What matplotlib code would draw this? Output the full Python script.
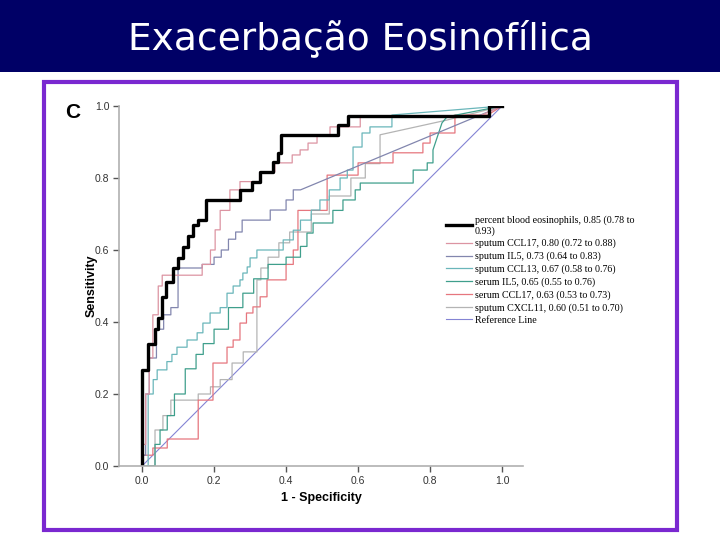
import matplotlib
matplotlib.use("Agg")
import matplotlib.pyplot as plt
from matplotlib.patches import Rectangle

# ROC curve vertices (1 - specificity, sensitivity)
eos_fpr = [0, 0, .017, .017, .036, .036, .045, .045, .055, .055, .067, .067, .086, .086, .10, .10,
           .114, .114, .128, .128, .142, .142, .156, .156, .178, .178, .272, .272, .306, .306, .328,
           .328, .364, .364, .378, .378, .386, .386, .544, .544, .572, .572, .964, .964, 1.0]
eos_tpr = [0, .267, .267, .34, .34, .38, .38, .41, .41, .47, .47, .51, .51, .55, .55, .578, .578,
           .608, .608, .64, .64, .67, .67, .683, .683, .739, .739, .767, .767, .79, .79, .817, .817,
           .844, .844, .87, .87, .92, .92, .947, .947, .972, .972, 1.0, 1.0]

sp_ccl17_fpr = [0, 0, .01, .01, .02, .02, .03, .03, .045, .045, .056, .056, .167, .167, .19, .19,
                .203, .203, .217, .217, .244, .244, .272, .272, .328, .328, .369, .369, .417, .417,
                .439, .439, .461, .461, .486, .486, .522, .522, .606, .606, .93, 1.0]
sp_ccl17_tpr = [0, .06, .06, .2, .2, .3, .3, .42, .42, .5, .5, .53, .53, .56, .56, .6, .6, .656,
                .656, .71, .71, .767, .767, .79, .79, .817, .817, .842, .842, .864, .864, .878, .878,
                .897, .897, .92, .92, .942, .942, .969, .969, 1.0]

sp_il5_fpr = [0, 0, .01, .01, .02, .02, .04, .04, .06, .06, .08, .08, .10, .10, .167, .167, .20, .20,
              .22, .22, .24, .24, .26, .26, .278, .278, .356, .356, .40, .40, .42, .42, .44, 1.0]
sp_il5_tpr = [0, .03, .03, .2, .2, .3, .3, .38, .38, .42, .42, .44, .44, .55, .55, .56, .56, .58, .58,
              .60, .60, .63, .63, .65, .65, .683, .683, .711, .711, .739, .739, .767, .767, 1.0]

sp_ccl13_fpr = [0, .017, .017, .031, .031, .042, .042, .069, .069, .083, .083, .097, .097, .125, .125,
                .153, .153, .169, .169, .189, .189, .217, .217, .236, .236, .253, .253, .272, .272,
                .28, .28, .292, .292, .30, .30, .319, .319, .392, .392, .42, .42, .44, .44, .47, .47,
                .494, .494, .52, .52, .55, .55, .57, .57, .586, .586, .611, .611, .633, .633, .694,
                .694, 1.0]
sp_ccl13_tpr = [0, 0, .2, .2, .24, .24, .267, .267, .29, .29, .31, .31, .33, .33, .35, .35, .37, .37,
                .397, .397, .425, .425, .44, .44, .48, .48, .50, .50, .517, .517, .536, .536, .553,
                .553, .578, .578, .60, .60, .628, .628, .655, .655, .683, .683, .711, .711, .739,
                .739, .767, .767, .80, .80, .822, .822, .886, .886, .925, .925, .942, .942, .975, 1.0]

se_il5_fpr = [0, .036, .036, .05, .05, .07, .07, .09, .09, .12, .12, .15, .15, .17, .17, .20, .20,
              .24, .24, .28, .28, .31, .31, .35, .35, .40, .40, .44, .44, .458, .458, .475, .475,
              .53, .53, .558, .558, .592, .592, .606, .606, .753, .753, .792, .792, .808, .808,
              .833, .847, 1.0]
se_il5_tpr = [0, 0, .06, .06, .10, .10, .14, .14, .20, .20, .27, .27, .31, .31, .34, .34, .38, .38,
              .44, .44, .48, .48, .52, .52, .56, .56, .58, .58, .61, .61, .647, .647, .675, .675,
              .71, .71, .739, .739, .767, .767, .786, .786, .822, .822, .842, .842, .878, .953,
              .97, 1.0]

se_ccl17_fpr = [0, 0, .03, .03, .07, .07, .156, .156, .197, .197, .236, .236, .253, .253, .272, .272,
                .29, .29, .308, .308, .328, .328, .347, .347, .40, .40, .42, .42, .433, .433, .514,
                .514, .60, .60, .697, .697, .78, .78, .80, .80, .869, .869, .96, 1.0]
se_ccl17_tpr = [0, .03, .03, .05, .05, .075, .075, .183, .183, .286, .286, .33, .33, .35, .35, .397,
                .397, .425, .425, .442, .442, .47, .47, .517, .517, .56, .56, .60, .60, .71, .71,
                .808, .808, .842, .842, .87, .87, .897, .897, .925, .925, .975, .975, 1.0]

sp_cxcl11_fpr = [0, .036, .036, .058, .058, .08, .08, .156, .156, .19, .19, .217, .217, .25, .25,
                 .281, .281, .319, .319, .33, .33, .35, .35, .38, .38, .41, .41, .47, .47, .52, .52,
                 .58, .58, .62, .62, .661, .661, .847, 1.0]
sp_cxcl11_tpr = [0, 0, .10, .10, .14, .14, .183, .183, .20, .20, .22, .22, .24, .24, .286, .286,
                 .317, .317, .517, .517, .55, .55, .58, .58, .62, .62, .65, .65, .70, .70, .75, .75,
                 .80, .80, .84, .84, .92, .961, 1.0]

ref_x = [0, 1]
ref_y = [0, 1]

labels = [
    "percent blood eosinophils, 0.85 (0.78 to\n0.93)",
    "sputum CCL17, 0.80 (0.72 to 0.88)",
    "sputum IL5, 0.73 (0.64 to 0.83)",
    "sputum CCL13, 0.67 (0.58 to 0.76)",
    "serum IL5, 0.65 (0.55 to 0.76)",
    "serum CCL17, 0.63 (0.53 to 0.73)",
    "sputum CXCL11, 0.60 (0.51 to 0.70)",
    "Reference Line",
]
ticks = [0.0, 0.2, 0.4, 0.6, 0.8, 1.0]
tick_labels = ["0.0", "0.2", "0.4", "0.6", "0.8", "1.0"]

fig = plt.figure(figsize=(7.2, 5.4), dpi=100)
fig.patch.set_facecolor("white")

# title bar
fig.patches.append(Rectangle((0, 1 - 72 / 540), 1, 72 / 540, transform=fig.transFigure,
                             facecolor="#000066", edgecolor="none", zorder=0))
fig.text(0.5, 1 - 38 / 540, "Exacerbação Eosinofílica", color="white", fontsize=27,
         ha="center", va="center", family="DejaVu Sans")

# purple frame
fig.patches.append(Rectangle((44 / 720, 1 - 530 / 540), 633 / 720, 448 / 540,
                             transform=fig.transFigure, facecolor="none",
                             edgecolor="#7a28d0", linewidth=3, zorder=1))

ax = fig.add_axes([119 / 720, 74 / 540, 404 / 720, 360 / 540])

ref, = ax.plot(ref_x, ref_y, color="#8484d4", lw=0.8)
h7, = ax.plot(sp_cxcl11_fpr, sp_cxcl11_tpr, color="#b4b4b4", lw=0.9)
h6, = ax.plot(se_ccl17_fpr, se_ccl17_tpr, color="#e6767e", lw=0.9)
h5, = ax.plot(se_il5_fpr, se_il5_tpr, color="#3f9f8c", lw=0.9)
h4, = ax.plot(sp_ccl13_fpr, sp_ccl13_tpr, color="#6ab6ba", lw=0.9)
h3, = ax.plot(sp_il5_fpr, sp_il5_tpr, color="#8286ae", lw=0.9)
h2, = ax.plot(sp_ccl17_fpr, sp_ccl17_tpr, color="#dc94a2", lw=0.9)
h1, = ax.plot(eos_fpr, eos_tpr, color="black", lw=2.4)

ax.set_xlim(-0.064, 1.058)
ax.set_ylim(0, 1.0)
ax.set_xticks(ticks)
ax.set_xticklabels(tick_labels)
ax.set_yticks(ticks)
ax.set_yticklabels(tick_labels)
for s in ["top", "right"]:
    ax.spines[s].set_visible(False)
for s in ["left", "bottom"]:
    ax.spines[s].set_color("#b0b0b0")
    ax.spines[s].set_linewidth(1.2)
ax.tick_params(direction="out", length=4, width=1, color="#555555",
               labelsize=7.5, labelcolor="#333333", pad=3)
for t in ax.get_xticklabels() + ax.get_yticklabels():
    t.set_family("Liberation Sans")

ax.set_xlabel("1 - Specificity", fontsize=9, fontweight="bold", family="Liberation Sans")
ax.set_ylabel("Sensitivity", fontsize=9, fontweight="bold", family="Liberation Sans")
ax.xaxis.set_label_coords(0.5, -0.072)
ax.yaxis.set_label_coords(-0.054, 0.5)

fig.text(73 / 720, 1 - 113 / 540, "C", fontsize=15, fontweight="bold",
         family="Liberation Sans", ha="center", va="center")

ax.legend([h1, h2, h3, h4, h5, h6, h7, ref], labels, loc="upper left",
          bbox_to_anchor=(441 / 720, 1 - 210 / 540), bbox_transform=fig.transFigure,
          frameon=False, borderpad=0, handlelength=2.6, handletextpad=0.25,
          labelspacing=0.32, prop={"family": "Liberation Serif", "size": 7.2})

fig.savefig("out.png", dpi=100)
